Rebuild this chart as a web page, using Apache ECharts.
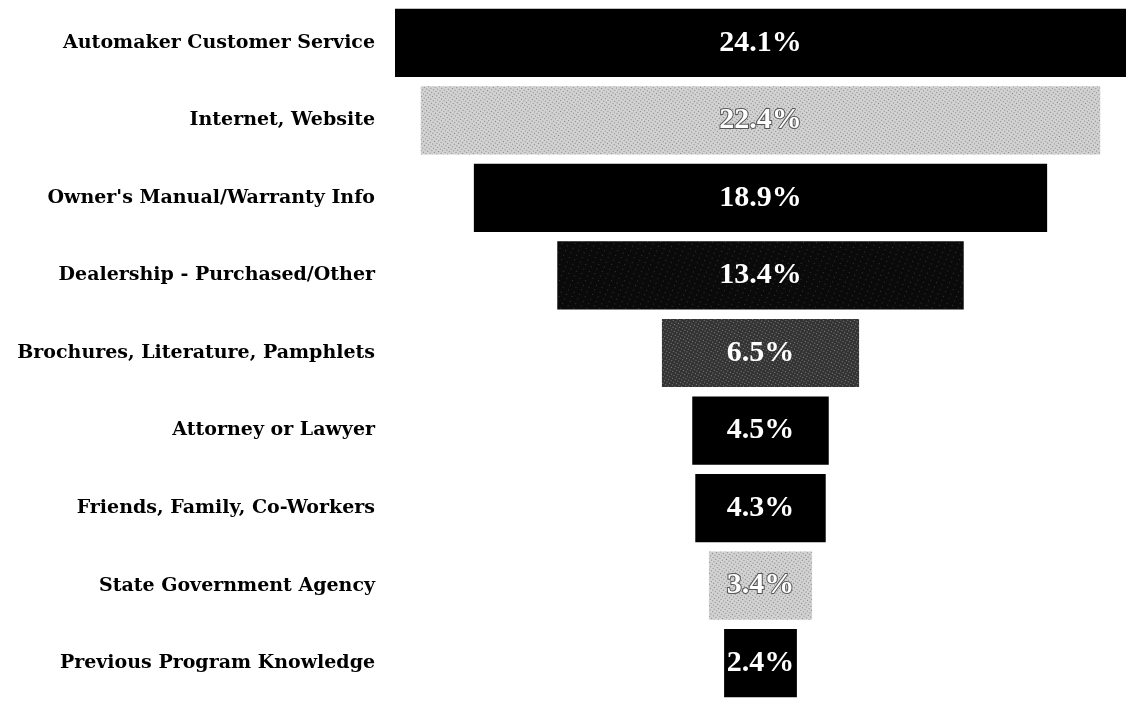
<!DOCTYPE html>
<html>
<head>
<meta charset="utf-8">
<script src="https://cdn.jsdelivr.net/npm/echarts@6/dist/echarts.min.js"></script>
<style>
  html, body { margin: 0; padding: 0; background: #fff; }
  #main { width: 1126px; height: 702px; }
</style>
</head>
<body>
<div id="main"></div>
<script>
var categories = [
  'Automaker Customer Service',
  'Internet, Website',
  "Owner's Manual/Warranty Info",
  'Dealership - Purchased/Other',
  'Brochures, Literature, Pamphlets',
  'Attorney or Lawyer',
  'Friends, Family, Co-Workers',
  'State Government Agency',
  'Previous Program Knowledge'
];
var shares = [24.1, 22.4, 18.9, 13.4, 6.5, 4.5, 4.3, 3.4, 2.4];

// look of each bar, top to bottom: solid black or one of the speckled greys
var barLooks = ['black', 'light', 'black', 'dark', 'mid', 'black', 'black', 'light', 'black'];

var looks = {
  black: { color: '#000000' },
  light: {
    color: '#d2d2d2',
    decal: { symbol: 'rect', symbolSize: 1, color: 'rgba(60,60,60,0.55)', dashArrayX: [1, 2], dashArrayY: [1, 2], rotation: 0.6 }
  },
  dark: {
    color: '#0a0a0a',
    decal: { symbol: 'rect', symbolSize: 1, color: 'rgba(255,255,255,0.18)', dashArrayX: [1, 5], dashArrayY: [1, 4], rotation: 0.4 }
  },
  mid: {
    color: '#333333',
    decal: { symbol: 'rect', symbolSize: 1, color: 'rgba(210,210,210,0.5)', dashArrayX: [1, 2], dashArrayY: [1, 2], rotation: 0.5 }
  }
};

var chartDom = document.getElementById('main');
var myChart = echarts.init(chartDom);
var maxShare = Math.max.apply(null, shares);

// transparent spacer so every bar is centred
var spacer = shares.map(function (v) { return (maxShare - v) / 2; });

var barData = shares.map(function (v, i) {
  var look = barLooks[i];
  return {
    value: v,
    itemStyle: looks[look],
    label: look === 'light' ? { textBorderColor: '#555', textBorderWidth: 2 } : {}
  };
});

var option = {
  animation: false,
  grid: {
    left: 395,
    right: 0,
    top: 4,
    height: 704
  },
  xAxis: {
    type: 'value',
    min: 0,
    max: maxShare,
    show: false
  },
  yAxis: {
    type: 'category',
    inverse: true,
    data: categories,
    axisLine: { show: false },
    axisTick: { show: false },
    axisLabel: {
      margin: 20,
      color: '#000',
      fontFamily: 'DejaVu Serif',
      fontWeight: 'bold',
      fontSize: 19
    }
  },
  series: [
    {
      type: 'bar',
      stack: 'total',
      data: spacer,
      itemStyle: { color: 'transparent' },
      silent: true
    },
    {
      type: 'bar',
      stack: 'total',
      data: barData,
      barCategoryGap: '12%',
      label: {
        show: true,
        position: 'inside',
        color: '#fff',
        fontFamily: 'Liberation Serif',
        fontWeight: 'bold',
        fontSize: 30,
        formatter: function (p) { return p.value.toFixed(1) + '%'; }
      }
    }
  ]
};

myChart.setOption(option);
</script>
</body>
</html>
